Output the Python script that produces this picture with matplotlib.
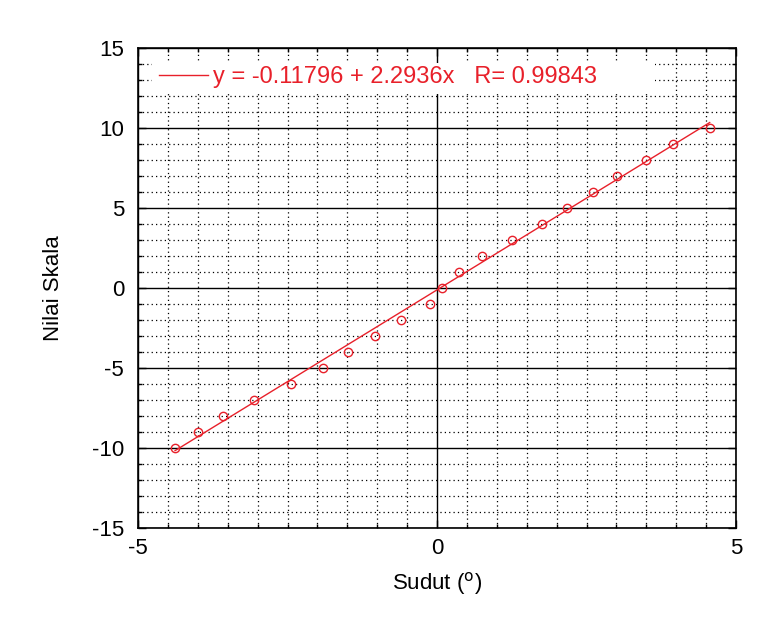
import matplotlib
matplotlib.use("Agg")
import matplotlib.pyplot as plt
import numpy as np
from matplotlib.ticker import MultipleLocator
from matplotlib.patches import Rectangle

plt.rcParams['font.family'] = ['Liberation Sans', 'DejaVu Sans']
plt.rcParams['axes.unicode_minus'] = False

sudut = [-4.38, -4.00, -3.58, -3.06, -2.44, -1.91, -1.49, -1.04, -0.61, -0.11, 0.09,
         0.37, 0.76, 1.25, 1.76, 2.17, 2.61, 3.01, 3.49, 3.95, 4.56]
skala = [-10, -9, -8, -7, -6, -5, -4, -3, -2, -1, 0,
         1, 2, 3, 4, 5, 6, 7, 8, 9, 10]
intercept = -0.11796
slope = 2.2936
r_value = 0.99843

RED = '#e8202a'

fig = plt.figure(figsize=(7.78, 6.42), dpi=100)
ax = fig.add_axes([138/778, 1-528/642, (736-138)/778, (528-48)/642])

ax.set_xlim(-5, 5)
ax.set_ylim(-15, 15)
ax.xaxis.set_major_locator(MultipleLocator(5))
ax.xaxis.set_minor_locator(MultipleLocator(0.5))
ax.yaxis.set_major_locator(MultipleLocator(5))
ax.yaxis.set_minor_locator(MultipleLocator(1))

ax.grid(which='minor', color='black', linestyle=(0, (1, 2.5)), linewidth=0.9)
ax.grid(which='major', color='black', linestyle='-', linewidth=1.0)
ax.set_axisbelow(True)

ax.tick_params(which='both', direction='in', top=True, right=True, labelsize=16, colors='black')
ax.tick_params(which='major', length=6, width=1)
ax.tick_params(which='minor', length=3, width=1)
ax.tick_params(axis='x', pad=7)
ax.tick_params(axis='y', pad=10)
for sp in ax.spines.values():
    sp.set_linewidth(1.2)
    sp.set_zorder(5)

# white legend background
ax.add_patch(Rectangle((0.0234, 0.905), 0.841, 0.063, transform=ax.transAxes,
                       facecolor='white', edgecolor='none', zorder=2))

xs = np.array([min(sudut), max(sudut)])
ax.plot(xs, intercept + slope * xs, color=RED, linewidth=1,
        label=f'y = {intercept} + {slope}x   R= {r_value}', zorder=3)
ax.plot(sudut, skala, linestyle='none', marker='o', markersize=6, markerfacecolor='none',
        markeredgecolor=RED, markeredgewidth=1, zorder=4)

leg = ax.legend(loc='upper left', bbox_to_anchor=(0.027, 0.972), fontsize=17, frameon=False,
                handlelength=2.1, handletextpad=0.2, borderpad=0.2, borderaxespad=0.0)
for t in leg.get_texts():
    t.set_color(RED)

ax.set_xlabel('Sudut ($^\\mathrm{o}$)', fontsize=16, labelpad=8)
ax.set_ylabel('Nilai Skala', fontsize=16, labelpad=20)

fig.savefig('out.png', dpi=100)
